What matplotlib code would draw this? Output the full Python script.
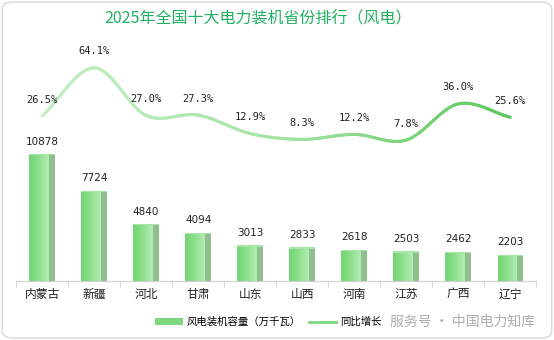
import numpy as np
import matplotlib.pyplot as plt
from matplotlib.collections import LineCollection
from matplotlib.patches import FancyBboxPatch, Rectangle
from matplotlib.lines import Line2D
from matplotlib.colors import LinearSegmentedColormap

plt.rcParams['font.family'] = ['Noto Sans CJK SC', 'DejaVu Sans']

# data
provinces = ["内蒙古", "新疆", "河北", "甘肃", "山东", "山西", "河南", "江苏", "广西", "辽宁"]
capacity = [10878, 7724, 4840, 4094, 3013, 2833, 2618, 2503, 2462, 2203]
growth = [26.5, 64.1, 27.0, 27.3, 12.9, 8.3, 12.2, 7.8, 36.0, 25.6]


def catmull_rom(x, y, n=30):
    """Smooth curve through the points (only used for drawing)."""
    px = np.concatenate([[2 * x[0] - x[1]], x, [2 * x[-1] - x[-2]]])
    py = np.concatenate([[2 * y[0] - y[1]], y, [2 * y[-1] - y[-2]]])
    xs, ys = [], []
    t = np.linspace(0, 1, n, endpoint=False)
    for i in range(1, len(px) - 2):
        for p, out in ((px, xs), (py, ys)):
            p0, p1, p2, p3 = p[i - 1], p[i], p[i + 1], p[i + 2]
            out.extend(0.5 * (2 * p1 + (-p0 + p2) * t
                              + (2 * p0 - 5 * p1 + 4 * p2 - p3) * t ** 2
                              + (-p0 + 3 * p1 - 3 * p2 + p3) * t ** 3))
    xs.append(x[-1])
    ys.append(y[-1])
    return np.array(xs), np.array(ys)


fig = plt.figure(figsize=(5.54, 3.40), dpi=100)
fig.patches.append(FancyBboxPatch((0.004, 0.006), 0.992, 0.988,
                                  boxstyle="round,pad=0,rounding_size=0.02",
                                  transform=fig.transFigure, fc="white",
                                  ec="#d8d8d8", lw=1.0, zorder=-10))

ax = fig.add_axes([0.029, 0.174, 0.939, 0.709])
ax.patch.set_alpha(0)
x = np.arange(len(provinces))

# bars with a fake 3d look: gradient front face + darker side
face_cmap = LinearSegmentedColormap.from_list("face", ["#6fd46f", "#8fe08f", "#b4ecb4"])
bw = 0.38
side = 0.11
bars = ax.bar(x - side / 2, capacity, width=bw, color="none", zorder=2)
grad = np.linspace(0, 1, 64).reshape(1, -1)
for b in bars:
    x0, w, h = b.get_x(), b.get_width(), b.get_height()
    im = ax.imshow(grad, cmap=face_cmap, extent=[x0, x0 + w, 0, h],
                   aspect="auto", zorder=2)
    im.set_clip_path(b)
    ax.add_patch(Rectangle((x0 + w, 0), side, h, fc="#8fbf8f", ec="none", zorder=2))
    ax.add_patch(Rectangle((x0, h - 60), w + side, 120, fc="#a6e6a6", ec="none", zorder=3))

for xi, v in zip(x, capacity):
    ax.text(xi, v + 700, str(v), ha="center", va="bottom", fontsize=7.5,
            family=["DejaVu Sans"], color="#222222")

ax.set_xlim(-0.5, 9.5)
ax.set_ylim(0, 20800)
ax.set_yticks([])
for s in ["top", "right", "left"]:
    ax.spines[s].set_visible(False)
ax.spines["bottom"].set_color("#d0d0d0")
ax.set_xticks(x)
ax.set_xticklabels(provinces, fontsize=8.5, color="#222222")
ax.tick_params(axis="x", length=0, pad=5)
ax.set_xticks(np.arange(-0.5, 10, 1), minor=True)
ax.tick_params(axis="x", which="minor", length=4, color="#d0d0d0")

# growth line on a hidden second axis
ax2 = ax.twinx()
ax2.set_ylim(-102, 86)
ax2.axis("off")
sx, sy = catmull_rom(x.astype(float), np.array(growth, dtype=float))
pts = np.column_stack([sx, sy]).reshape(-1, 1, 2)
segs = np.concatenate([pts[:-1], pts[1:]], axis=1)
line_cmap = LinearSegmentedColormap.from_list("line", ["#c2efc2", "#a6e4a6", "#5cc85c"])
lc = LineCollection(segs, cmap=line_cmap, linewidth=2.2, capstyle="round")
lc.set_array(np.linspace(0, 1, len(segs)))
ax2.add_collection(lc)
for xi, g in zip(x, growth):
    ax2.text(xi, g + 9, f"{g:.1f}%", ha="center", va="bottom", fontsize=7.5,
             family=["DejaVu Sans Mono"], color="#222222")

fig.text(0.465, 0.945, "2025年全国十大电力装机省份排行（风电）", ha="center", va="center",
         fontsize=11.5, color="#22b060")

# legend
handles = [Rectangle((0, 0), 1, 1, fc="#7dd87d", ec="none"),
           Line2D([], [], color="#7fd67f", lw=2)]
fig.legend(handles, ["风电装机容量（万千瓦）", "同比增长"], loc="center",
           bbox_to_anchor=(0.485, 0.053), ncol=2, frameon=False, fontsize=7.5,
           handlelength=2.6, handleheight=0.6, columnspacing=0.8, handletextpad=0.4)

fig.text(0.966, 0.053, "服务号 · 中国电力知库", ha="right", va="center",
         fontsize=10, color="#9a9a9a", alpha=0.8)

fig.savefig("out.png", dpi=100)
